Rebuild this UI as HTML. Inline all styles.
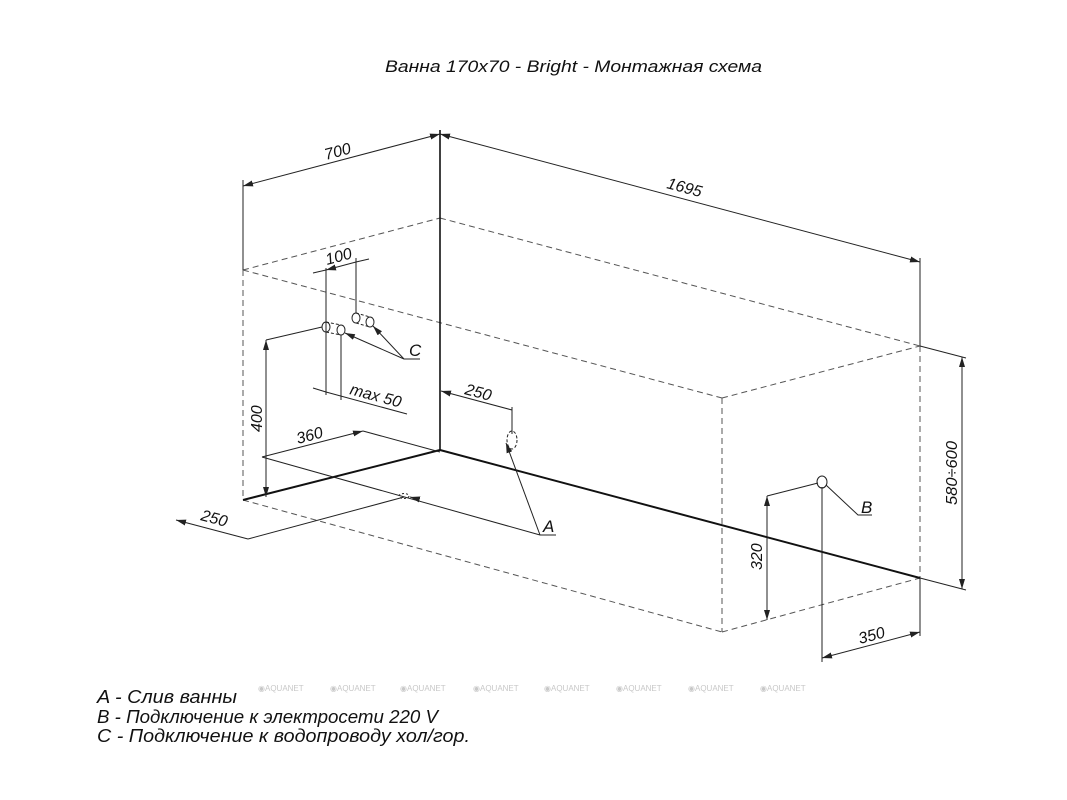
<!DOCTYPE html>
<html><head><meta charset="utf-8"><style>
html,body{margin:0;padding:0;background:#fff;}
svg{display:block;}
text{font-family:"Liberation Sans",sans-serif;font-style:italic;fill:#111;}
</style></head><body>
<svg width="1067" height="800" viewBox="0 0 1067 800" xmlns="http://www.w3.org/2000/svg">
<defs>
<marker id="a" viewBox="0 0 10 6" refX="10" refY="3" markerWidth="10" markerHeight="6" markerUnits="userSpaceOnUse" orient="auto-start-reverse"><path d="M0,0 L10,3 L0,6 z" fill="#222"/></marker>
</defs>
<text x="385" y="72" font-size="17" textLength="377" lengthAdjust="spacingAndGlyphs">Ванна 170x70 - Bright - Монтажная схема</text>

<g stroke="#555" stroke-width="1" fill="none" stroke-dasharray="6,4">
<line x1="243" y1="270" x2="440" y2="218"/>
<line x1="243" y1="270" x2="722" y2="398"/>
<line x1="440" y1="218" x2="920" y2="346"/>
<line x1="722" y1="398" x2="920" y2="346"/>
<line x1="243" y1="270" x2="243" y2="500"/>
<line x1="243" y1="500" x2="722" y2="632"/>
<line x1="722" y1="632" x2="920" y2="578"/>
<line x1="722" y1="398" x2="722" y2="632"/>
<line x1="920" y1="346" x2="920" y2="578"/>
</g>
<g stroke="#111" fill="none">
<line x1="440" y1="130" x2="440" y2="450" stroke-width="1.6"/>
<line x1="243" y1="500" x2="440" y2="450" stroke-width="2"/>
<line x1="440" y1="450" x2="920" y2="578" stroke-width="2"/>
</g>
<g stroke="#222" stroke-width="1" fill="none">
<line x1="243" y1="180" x2="243" y2="270"/>
<line x1="243" y1="186" x2="440" y2="134" marker-start="url(#a)" marker-end="url(#a)"/>
<line x1="440" y1="134" x2="920" y2="262" marker-start="url(#a)" marker-end="url(#a)"/>
<line x1="920" y1="258" x2="920" y2="346"/>
<line x1="920" y1="346" x2="966" y2="358"/>
<line x1="920" y1="578" x2="966" y2="590"/>
<line x1="962" y1="357" x2="962" y2="589" marker-start="url(#a)" marker-end="url(#a)"/>
<line x1="920" y1="578" x2="920" y2="636"/>
<line x1="822" y1="487" x2="822" y2="662"/>
<line x1="822" y1="658" x2="920" y2="632" marker-start="url(#a)" marker-end="url(#a)"/>
<ellipse cx="822" cy="482" rx="5" ry="6"/>
<line x1="767" y1="496" x2="818" y2="483"/>
<line x1="767" y1="496" x2="767" y2="620" marker-start="url(#a)" marker-end="url(#a)"/>
<polyline points="826,485 858,515 872,515"/>
<line x1="266" y1="340" x2="322" y2="327"/>
<line x1="266" y1="340" x2="266" y2="497" marker-start="url(#a)" marker-end="url(#a)"/>
<ellipse cx="326" cy="327" rx="4" ry="5"/>
<ellipse cx="341" cy="330" rx="4" ry="5"/>
<ellipse cx="356" cy="318" rx="4" ry="5"/>
<ellipse cx="370" cy="322" rx="4" ry="5"/>
<line x1="326" y1="322" x2="341" y2="325" stroke-dasharray="3,2"/>
<line x1="326" y1="332" x2="341" y2="335" stroke-dasharray="3,2"/>
<line x1="356" y1="313" x2="370" y2="317" stroke-dasharray="3,2"/>
<line x1="356" y1="323" x2="370" y2="327" stroke-dasharray="3,2"/>
<line x1="404" y1="359" x2="345" y2="333" marker-end="url(#a)"/>
<line x1="404" y1="359" x2="373" y2="326" marker-end="url(#a)"/>
<line x1="404" y1="359" x2="420" y2="359"/>
<line x1="326" y1="268" x2="326" y2="395"/>
<line x1="356" y1="258" x2="356" y2="313"/>
<line x1="313" y1="273" x2="326" y2="270"/>
<line x1="326" y1="270" x2="356" y2="262" marker-start="url(#a)"/>
<line x1="356" y1="262" x2="369" y2="259"/>
<line x1="341" y1="335" x2="341" y2="400"/>
<line x1="313" y1="388" x2="326" y2="392"/>
<line x1="326" y1="392" x2="407" y2="414"/>
<line x1="262" y1="457" x2="363" y2="431" marker-end="url(#a)"/>
<line x1="363" y1="431" x2="440" y2="452"/>
<line x1="262" y1="457" x2="540" y2="535"/>
<line x1="248" y1="539" x2="176" y2="520" marker-end="url(#a)"/>
<line x1="248" y1="539" x2="404" y2="497"/>
<ellipse cx="404" cy="496" rx="5" ry="2.5" stroke-dasharray="2,2"/>
<line x1="418" y1="499" x2="410" y2="497" marker-end="url(#a)"/>
<line x1="512" y1="410" x2="441" y2="391" marker-end="url(#a)"/>
<line x1="512" y1="407" x2="512" y2="434"/>
<ellipse cx="512" cy="440" rx="5" ry="9" stroke-dasharray="3,2"/>
<line x1="540" y1="535" x2="506" y2="443" marker-end="url(#a)"/>
<line x1="540" y1="535" x2="556" y2="535"/>
</g>

<text font-size="16" transform="translate(326,160) rotate(-15)">700</text>
<text font-size="16" transform="translate(666,188) rotate(15)">1695</text>
<text font-size="16" transform="translate(957,505) rotate(-90)" textLength="64" lengthAdjust="spacingAndGlyphs">580÷600</text>
<text font-size="16" transform="translate(860,644) rotate(-15)">350</text>
<text font-size="16" transform="translate(762,570) rotate(-90)">320</text>
<text font-size="17" x="861" y="513">B</text>
<text font-size="16" transform="translate(262,432) rotate(-90)">400</text>
<text font-size="17" x="409" y="356">C</text>
<text font-size="16" transform="translate(327,265) rotate(-15)">100</text>
<text font-size="16" transform="translate(349,394) rotate(15)">max 50</text>
<text font-size="16" transform="translate(298,444) rotate(-15)">360</text>
<text font-size="16" transform="translate(464,394) rotate(15)">250</text>
<text font-size="16" transform="translate(200,520) rotate(15)">250</text>
<text font-size="17" x="543" y="532">A</text>

<g font-size="8">
<text x="258" y="691" style="fill:#c8c8c8;font-style:normal">◉AQUANET</text>
<text x="330" y="691" style="fill:#c8c8c8;font-style:normal">◉AQUANET</text>
<text x="400" y="691" style="fill:#c8c8c8;font-style:normal">◉AQUANET</text>
<text x="473" y="691" style="fill:#c8c8c8;font-style:normal">◉AQUANET</text>
<text x="544" y="691" style="fill:#c8c8c8;font-style:normal">◉AQUANET</text>
<text x="616" y="691" style="fill:#c8c8c8;font-style:normal">◉AQUANET</text>
<text x="688" y="691" style="fill:#c8c8c8;font-style:normal">◉AQUANET</text>
<text x="760" y="691" style="fill:#c8c8c8;font-style:normal">◉AQUANET</text>
</g>
<text x="97" y="703" font-size="18" textLength="140" lengthAdjust="spacingAndGlyphs">A - Слив ванны</text>
<text x="97" y="723" font-size="18" textLength="341" lengthAdjust="spacingAndGlyphs">B - Подключение к электросети 220 V</text>
<text x="97" y="742" font-size="18" textLength="373" lengthAdjust="spacingAndGlyphs">C - Подключение к водопроводу хол/гор.</text>
</svg>
</body></html>
